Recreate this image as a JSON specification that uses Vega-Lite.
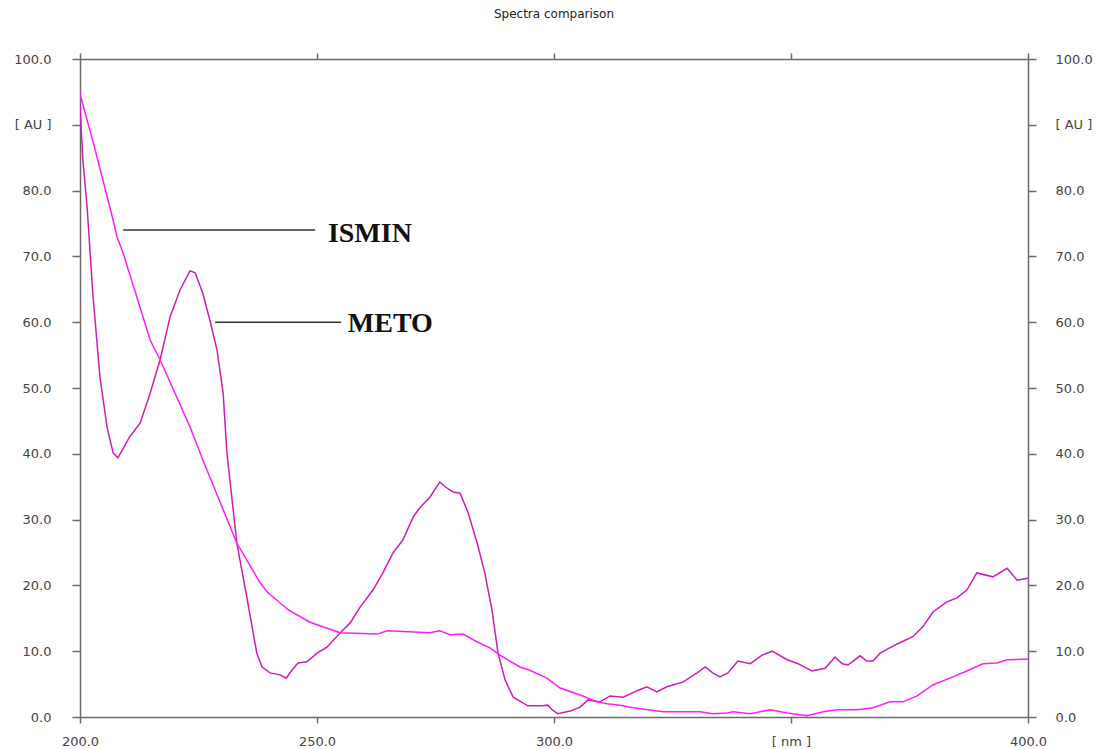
{
  "$schema": "https://vega.github.io/schema/vega-lite/v6.json",
  "autosize": "none",
  "width": 948,
  "height": 658,
  "padding": {"left": 80, "top": 59, "right": 68, "bottom": 32},
  "background": "white",
  "config": {
    "view": {"stroke": null},
    "axis": {"grid": false, "domainColor": "#6a6a6a", "tickColor": "#6a6a6a", "domainWidth": 1.5, "tickWidth": 1.5, "labelFont": "DejaVu Sans", "labelFontSize": 13, "labelColor": "#444444", "title": null}
  },
  "title": {"text": "Spectra comparison", "font": "DejaVu Sans", "fontSize": 12, "fontWeight": "normal", "color": "#222222", "anchor": "middle", "offset": 31},
  "datasets": {
    "spectra": [
      {"series":"METO","nm":200,"au":93.0},{"series":"METO","nm":200.6,"au":84.7},{"series":"METO","nm":201.5,"au":77.5},{"series":"METO","nm":202.7,"au":64.4},{"series":"METO","nm":204.2,"au":51.7},{"series":"METO","nm":205.7,"au":44.1},{"series":"METO","nm":207.0,"au":40.1},{"series":"METO","nm":208.0,"au":39.4},{"series":"METO","nm":210.5,"au":42.6},{"series":"METO","nm":212.7,"au":44.7},{"series":"METO","nm":214.8,"au":49.2},{"series":"METO","nm":216.9,"au":54.3},{"series":"METO","nm":219.0,"au":60.8},{"series":"METO","nm":221.1,"au":64.9},{"series":"METO","nm":223.2,"au":67.8},{"series":"METO","nm":224.3,"au":67.5},{"series":"METO","nm":225.9,"au":64.4},{"series":"METO","nm":227.4,"au":60.3},{"series":"METO","nm":228.9,"au":55.8},{"series":"METO","nm":230.2,"au":49.2},{"series":"METO","nm":231.0,"au":40.1},{"series":"METO","nm":233.1,"au":26.4},{"series":"METO","nm":235.2,"au":18.2},{"series":"METO","nm":237.3,"au":9.7},{"series":"METO","nm":238.4,"au":7.6},{"series":"METO","nm":240.1,"au":6.7},{"series":"METO","nm":242.2,"au":6.4},{"series":"METO","nm":243.5,"au":5.9},{"series":"METO","nm":244.7,"au":7.1},{"series":"METO","nm":246.0,"au":8.2},{"series":"METO","nm":247.9,"au":8.4},{"series":"METO","nm":250.0,"au":9.7},{"series":"METO","nm":252.1,"au":10.6},{"series":"METO","nm":254.9,"au":12.8},{"series":"METO","nm":257.0,"au":14.3},{"series":"METO","nm":259.1,"au":16.7},{"series":"METO","nm":261.8,"au":19.3},{"series":"METO","nm":263.9,"au":21.9},{"series":"METO","nm":266.0,"au":24.9},{"series":"METO","nm":268.1,"au":26.9},{"series":"METO","nm":270.3,"au":30.4},{"series":"METO","nm":271.7,"au":31.8},{"series":"METO","nm":273.8,"au":33.4},{"series":"METO","nm":275.9,"au":35.7},{"series":"METO","nm":277.4,"au":34.8},{"series":"METO","nm":278.7,"au":34.2},{"series":"METO","nm":280.2,"au":34.0},{"series":"METO","nm":281.9,"au":31.0},{"series":"METO","nm":283.8,"au":26.4},{"series":"METO","nm":285.4,"au":21.9},{"series":"METO","nm":286.9,"au":16.3},{"series":"METO","nm":288.2,"au":9.7},{"series":"METO","nm":289.7,"au":5.6},{"series":"METO","nm":291.4,"au":3.0},{"series":"METO","nm":294.5,"au":1.7},{"series":"METO","nm":297.5,"au":1.7},{"series":"METO","nm":298.7,"au":1.8},{"series":"METO","nm":299.6,"au":1.1},{"series":"METO","nm":300.8,"au":0.5},{"series":"METO","nm":303.4,"au":0.9},{"series":"METO","nm":305.5,"au":1.5},{"series":"METO","nm":307.2,"au":2.6},{"series":"METO","nm":309.7,"au":2.3},{"series":"METO","nm":311.8,"au":3.2},{"series":"METO","nm":314.6,"au":3.0},{"series":"METO","nm":317.5,"au":4.0},{"series":"METO","nm":319.6,"au":4.6},{"series":"METO","nm":321.7,"au":3.8},{"series":"METO","nm":323.8,"au":4.6},{"series":"METO","nm":327.2,"au":5.3},{"series":"METO","nm":330.2,"au":6.7},{"series":"METO","nm":331.9,"au":7.6},{"series":"METO","nm":333.5,"au":6.7},{"series":"METO","nm":335.0,"au":6.1},{"series":"METO","nm":336.7,"au":6.7},{"series":"METO","nm":338.8,"au":8.5},{"series":"METO","nm":341.4,"au":8.1},{"series":"METO","nm":343.9,"au":9.4},{"series":"METO","nm":346.0,"au":10.0},{"series":"METO","nm":349.2,"au":8.7},{"series":"METO","nm":351.5,"au":8.1},{"series":"METO","nm":354.4,"au":7.0},{"series":"METO","nm":357.2,"au":7.4},{"series":"METO","nm":359.3,"au":9.1},{"series":"METO","nm":360.8,"au":8.1},{"series":"METO","nm":362.0,"au":7.9},{"series":"METO","nm":364.6,"au":9.3},{"series":"METO","nm":366.0,"au":8.5},{"series":"METO","nm":367.3,"au":8.5},{"series":"METO","nm":368.8,"au":9.7},{"series":"METO","nm":372.4,"au":11.1},{"series":"METO","nm":375.7,"au":12.2},{"series":"METO","nm":377.8,"au":13.7},{"series":"METO","nm":380.0,"au":16.0},{"series":"METO","nm":382.9,"au":17.5},{"series":"METO","nm":385.0,"au":18.1},{"series":"METO","nm":387.1,"au":19.3},{"series":"METO","nm":389.2,"au":21.9},{"series":"METO","nm":392.6,"au":21.3},{"series":"METO","nm":395.6,"au":22.6},{"series":"METO","nm":397.7,"au":20.8},{"series":"METO","nm":400.0,"au":21.1},
      {"series":"ISMIN","nm":200,"au":94.7},{"series":"ISMIN","nm":203.2,"au":86.2},{"series":"ISMIN","nm":207.0,"au":75.5},{"series":"ISMIN","nm":207.8,"au":73.0},{"series":"ISMIN","nm":209.1,"au":70.5},{"series":"ISMIN","nm":214.8,"au":57.3},{"series":"ISMIN","nm":216.9,"au":54.3},{"series":"ISMIN","nm":223.2,"au":44.1},{"series":"ISMIN","nm":225.9,"au":39.1},{"series":"ISMIN","nm":233.1,"au":26.4},{"series":"ISMIN","nm":238.0,"au":20.4},{"series":"ISMIN","nm":239.5,"au":19.0},{"series":"ISMIN","nm":243.9,"au":16.3},{"series":"ISMIN","nm":248.5,"au":14.4},{"series":"ISMIN","nm":254.9,"au":12.8},{"series":"ISMIN","nm":262.7,"au":12.6},{"series":"ISMIN","nm":264.8,"au":13.1},{"series":"ISMIN","nm":273.8,"au":12.8},{"series":"ISMIN","nm":275.9,"au":13.1},{"series":"ISMIN","nm":278.1,"au":12.5},{"series":"ISMIN","nm":280.8,"au":12.6},{"series":"ISMIN","nm":283.8,"au":11.4},{"series":"ISMIN","nm":286.5,"au":10.5},{"series":"ISMIN","nm":288.6,"au":9.4},{"series":"ISMIN","nm":292.8,"au":7.6},{"series":"ISMIN","nm":294.9,"au":7.1},{"series":"ISMIN","nm":298.5,"au":5.9},{"series":"ISMIN","nm":301.3,"au":4.4},{"series":"ISMIN","nm":306.1,"au":3.2},{"series":"ISMIN","nm":309.1,"au":2.3},{"series":"ISMIN","nm":311.2,"au":2.0},{"series":"ISMIN","nm":313.9,"au":1.8},{"series":"ISMIN","nm":316.7,"au":1.4},{"series":"ISMIN","nm":323.0,"au":0.8},{"series":"ISMIN","nm":330.8,"au":0.8},{"series":"ISMIN","nm":333.5,"au":0.5},{"series":"ISMIN","nm":336.5,"au":0.6},{"series":"ISMIN","nm":337.8,"au":0.8},{"series":"ISMIN","nm":341.4,"au":0.5},{"series":"ISMIN","nm":345.6,"au":1.1},{"series":"ISMIN","nm":349.2,"au":0.6},{"series":"ISMIN","nm":353.4,"au":0.2},{"series":"ISMIN","nm":356.8,"au":0.8},{"series":"ISMIN","nm":359.7,"au":1.1},{"series":"ISMIN","nm":363.9,"au":1.1},{"series":"ISMIN","nm":367.3,"au":1.4},{"series":"ISMIN","nm":370.9,"au":2.3},{"series":"ISMIN","nm":373.6,"au":2.3},{"series":"ISMIN","nm":376.6,"au":3.2},{"series":"ISMIN","nm":380.0,"au":4.9},{"series":"ISMIN","nm":383.5,"au":5.9},{"series":"ISMIN","nm":387.1,"au":7.0},{"series":"ISMIN","nm":390.5,"au":8.1},{"series":"ISMIN","nm":393.5,"au":8.2},{"series":"ISMIN","nm":395.6,"au":8.7},{"series":"ISMIN","nm":400.0,"au":8.8}
    ],
    "labels": [
      {"label":"ISMIN","nm":209.1,"nm2":249.6,"au":74.0,"tnm":252.3,"tau":73.4},
      {"label":"METO","nm":228.5,"nm2":255.1,"au":60.0,"tnm":256.5,"tau":59.7}
    ]
  },
  "layer": [
    {
      "data": {"name": "spectra"},
      "mark": {"type": "line", "strokeWidth": 1.5, "clip": true},
      "encoding": {
        "x": {"field": "nm", "type": "quantitative", "scale": {"domain": [200, 400], "nice": false, "zero": false},
          "axis": {"orient": "bottom", "values": [200, 250, 300, 350, 400], "tickSize": 6, "labelPadding": 12, "labelExpr": "datum.value == 350 ? '[ nm ]' : format(datum.value, '.1f')", "labelFlush": false, "labelOverlap": false}},
        "y": {"field": "au", "type": "quantitative", "scale": {"domain": [0, 100], "nice": false, "zero": false},
          "axis": {"orient": "left", "values": [0, 10, 20, 30, 40, 50, 60, 70, 80, 90, 100], "tickSize": 8, "labelPadding": 21, "labelExpr": "datum.value == 90 ? '[ AU ]' : format(datum.value, '.1f')", "labelFlush": false, "labelOverlap": false}},
        "color": {"field": "series", "type": "nominal", "scale": {"domain": ["METO", "ISMIN"], "range": ["#d01cb4", "#ff1cff"]}, "legend": null},
        "order": {"field": "nm", "type": "quantitative"}
      }
    },
    {
      "data": {"name": "spectra"},
      "mark": {"type": "rule", "opacity": 0},
      "encoding": {
        "x": {"field": "nm", "type": "quantitative", "scale": {"domain": [200, 400], "nice": false, "zero": false}, "axis": {"orient": "top", "values": [200, 250, 300, 350, 400], "tickSize": 6, "labels": false}},
        "y": {"field": "au", "type": "quantitative", "scale": {"domain": [0, 100], "nice": false, "zero": false}, "axis": {"orient": "right", "values": [0, 10, 20, 30, 40, 50, 60, 70, 80, 90, 100], "tickSize": 8, "labelPadding": 19, "labelAlign": "left", "labelExpr": "datum.value == 90 ? '[ AU ]' : format(datum.value, '.1f')", "labelFlush": false, "labelOverlap": false}}
      }
    },
    {
      "data": {"name": "labels"},
      "mark": {"type": "rule", "color": "#333333", "strokeWidth": 1.5},
      "encoding": {
        "x": {"field": "nm", "type": "quantitative", "scale": {"domain": [200, 400], "nice": false, "zero": false}, "axis": null},
        "x2": {"field": "nm2"},
        "y": {"field": "au", "type": "quantitative", "scale": {"domain": [0, 100], "nice": false, "zero": false}, "axis": null}
      }
    },
    {
      "data": {"name": "labels"},
      "mark": {"type": "text", "font": "Liberation Serif", "fontSize": 28, "fontWeight": "bold", "align": "left", "baseline": "middle", "color": "#111111"},
      "encoding": {
        "x": {"field": "tnm", "type": "quantitative", "scale": {"domain": [200, 400], "nice": false, "zero": false}, "axis": null},
        "y": {"field": "tau", "type": "quantitative", "scale": {"domain": [0, 100], "nice": false, "zero": false}, "axis": null},
        "text": {"field": "label"}
      }
    }
  ],
  "resolve": {"axis": {"x": "independent", "y": "independent"}}
}
